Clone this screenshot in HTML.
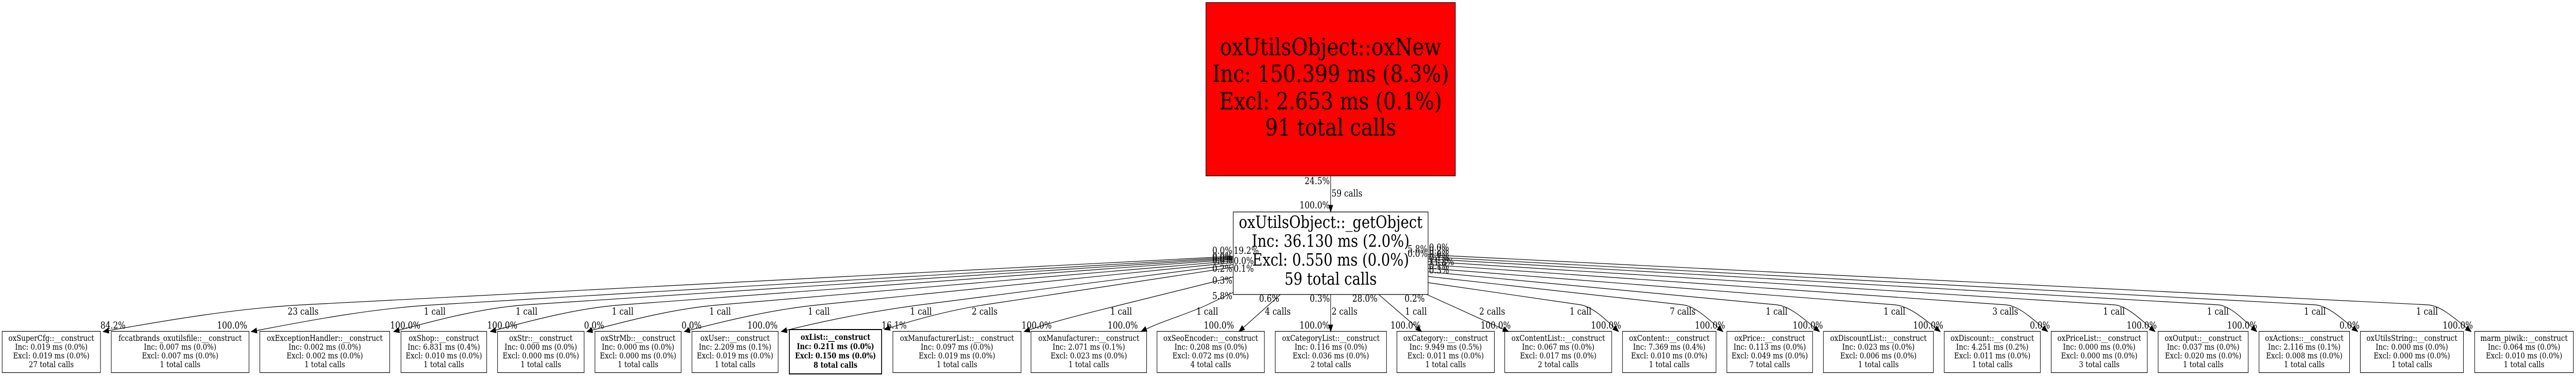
<!DOCTYPE html>
<html><head><meta charset="utf-8">
<style>
html,body{margin:0;padding:0;background:#fff;width:100%;height:100%;overflow:hidden}
svg{display:block;width:100vw;height:100vh}
text{font-family:"DejaVu Serif","Liberation Serif",serif;fill:#000}
</style></head>
<body>
<svg viewBox="0 0 5949 731" preserveAspectRatio="none" xmlns="http://www.w3.org/2000/svg">
<rect x="0" y="0" width="5949" height="731" fill="#fff"/>

<!-- top red node -->
<rect x="2785" y="5" width="576" height="336" fill="#ff0000" stroke="#000" stroke-width="1.3"/>
<g font-size="46.3" text-anchor="middle">
<text x="3073" y="107">oxUtilsObject::oxNew</text>
<text x="3073" y="159">Inc: 150.399 ms (8.3%)</text>
<text x="3073" y="212">Excl: 2.653 ms (0.1%)</text>
<text x="3073" y="263">91 total calls</text>
</g>

<!-- getObject node -->
<rect x="2848" y="411" width="450" height="160" fill="#fff" stroke="#000" stroke-width="1.3"/>
<g font-size="32.6" text-anchor="middle">
<text x="3073" y="442">oxUtilsObject::_getObject</text>
<text x="3073" y="478.5">Inc: 36.130 ms (2.0%)</text>
<text x="3073" y="515">Excl: 0.550 ms (0.0%)</text>
<text x="3073" y="552">59 total calls</text>
</g>

<!-- bottom nodes -->
<g fill="#fff" stroke="#000" stroke-width="1.2">
<rect x="5" y="642.5" width="227" height="80"/>
<rect x="257" y="642.5" width="318" height="80"/>
<rect x="600" y="642.5" width="300" height="80"/>
<rect x="926" y="642.5" width="198" height="80"/>
<rect x="1149" y="642.5" width="200" height="80"/>
<rect x="1374" y="642.5" width="199" height="80"/>
<rect x="1598" y="642.5" width="199" height="80"/>
<rect x="1823" y="639" width="213" height="86" stroke-width="2"/>
<rect x="2062" y="642.5" width="296" height="80"/>
<rect x="2381" y="642.5" width="267" height="80"/>
<rect x="2672" y="642.5" width="248" height="80"/>
<rect x="2945" y="642.5" width="257" height="80"/>
<rect x="3226" y="642.5" width="225" height="80"/>
<rect x="3475" y="642.5" width="247" height="80"/>
<rect x="3747" y="642.5" width="216" height="80"/>
<rect x="3988" y="642.5" width="198" height="80"/>
<rect x="4211" y="642.5" width="254" height="80"/>
<rect x="4490" y="642.5" width="222" height="80"/>
<rect x="4737" y="642.5" width="222" height="80"/>
<rect x="4984" y="642.5" width="208" height="80"/>
<rect x="5217" y="642.5" width="209" height="80"/>
<rect x="5451" y="642.5" width="238" height="80"/>
<rect x="5715" y="642.5" width="228" height="80"/>
</g>

<g font-size="15.9" text-anchor="middle">
<text x="118.5" y="661">oxSuperCfg::__construct</text><text x="118.5" y="678">Inc: 0.019 ms (0.0%)</text><text x="118.5" y="695">Excl: 0.019 ms (0.0%)</text><text x="118.5" y="712">27 total calls</text>
<text x="416" y="661">fccatbrands_oxutilsfile::__construct</text><text x="416" y="678">Inc: 0.007 ms (0.0%)</text><text x="416" y="695">Excl: 0.007 ms (0.0%)</text><text x="416" y="712">1 total calls</text>
<text x="750" y="661">oxExceptionHandler::__construct</text><text x="750" y="678">Inc: 0.002 ms (0.0%)</text><text x="750" y="695">Excl: 0.002 ms (0.0%)</text><text x="750" y="712">1 total calls</text>
<text x="1025" y="661">oxShop::__construct</text><text x="1025" y="678">Inc: 6.831 ms (0.4%)</text><text x="1025" y="695">Excl: 0.010 ms (0.0%)</text><text x="1025" y="712">1 total calls</text>
<text x="1249" y="661">oxStr::__construct</text><text x="1249" y="678">Inc: 0.000 ms (0.0%)</text><text x="1249" y="695">Excl: 0.000 ms (0.0%)</text><text x="1249" y="712">1 total calls</text>
<text x="1473.5" y="661">oxStrMb::__construct</text><text x="1473.5" y="678">Inc: 0.000 ms (0.0%)</text><text x="1473.5" y="695">Excl: 0.000 ms (0.0%)</text><text x="1473.5" y="712">1 total calls</text>
<text x="1697.5" y="661">oxUser::__construct</text><text x="1697.5" y="678">Inc: 2.209 ms (0.1%)</text><text x="1697.5" y="695">Excl: 0.019 ms (0.0%)</text><text x="1697.5" y="712">1 total calls</text>
<g font-weight="bold" font-size="15.4">
<text x="1929.5" y="659">oxList::__construct</text><text x="1929.5" y="677">Inc: 0.211 ms (0.0%)</text><text x="1929.5" y="695">Excl: 0.150 ms (0.0%)</text><text x="1929.5" y="713">8 total calls</text>
</g>
<text x="2210" y="661">oxManufacturerList::__construct</text><text x="2210" y="678">Inc: 0.097 ms (0.0%)</text><text x="2210" y="695">Excl: 0.019 ms (0.0%)</text><text x="2210" y="712">1 total calls</text>
<text x="2514.5" y="661">oxManufacturer::__construct</text><text x="2514.5" y="678">Inc: 2.071 ms (0.1%)</text><text x="2514.5" y="695">Excl: 0.023 ms (0.0%)</text><text x="2514.5" y="712">1 total calls</text>
<text x="2796" y="661">oxSeoEncoder::__construct</text><text x="2796" y="678">Inc: 0.208 ms (0.0%)</text><text x="2796" y="695">Excl: 0.072 ms (0.0%)</text><text x="2796" y="712">4 total calls</text>
<text x="3073.5" y="661">oxCategoryList::__construct</text><text x="3073.5" y="678">Inc: 0.116 ms (0.0%)</text><text x="3073.5" y="695">Excl: 0.036 ms (0.0%)</text><text x="3073.5" y="712">2 total calls</text>
<text x="3338.5" y="661">oxCategory::__construct</text><text x="3338.5" y="678">Inc: 9.949 ms (0.5%)</text><text x="3338.5" y="695">Excl: 0.011 ms (0.0%)</text><text x="3338.5" y="712">1 total calls</text>
<text x="3598.5" y="661">oxContentList::__construct</text><text x="3598.5" y="678">Inc: 0.067 ms (0.0%)</text><text x="3598.5" y="695">Excl: 0.017 ms (0.0%)</text><text x="3598.5" y="712">2 total calls</text>
<text x="3855" y="661">oxContent::__construct</text><text x="3855" y="678">Inc: 7.369 ms (0.4%)</text><text x="3855" y="695">Excl: 0.010 ms (0.0%)</text><text x="3855" y="712">1 total calls</text>
<text x="4087" y="661">oxPrice::__construct</text><text x="4087" y="678">Inc: 0.113 ms (0.0%)</text><text x="4087" y="695">Excl: 0.049 ms (0.0%)</text><text x="4087" y="712">7 total calls</text>
<text x="4338" y="661">oxDiscountList::__construct</text><text x="4338" y="678">Inc: 0.023 ms (0.0%)</text><text x="4338" y="695">Excl: 0.006 ms (0.0%)</text><text x="4338" y="712">1 total calls</text>
<text x="4601" y="661">oxDiscount::__construct</text><text x="4601" y="678">Inc: 4.251 ms (0.2%)</text><text x="4601" y="695">Excl: 0.011 ms (0.0%)</text><text x="4601" y="712">1 total calls</text>
<text x="4848" y="661">oxPriceList::__construct</text><text x="4848" y="678">Inc: 0.000 ms (0.0%)</text><text x="4848" y="695">Excl: 0.000 ms (0.0%)</text><text x="4848" y="712">3 total calls</text>
<text x="5088" y="661">oxOutput::__construct</text><text x="5088" y="678">Inc: 0.037 ms (0.0%)</text><text x="5088" y="695">Excl: 0.020 ms (0.0%)</text><text x="5088" y="712">1 total calls</text>
<text x="5321.5" y="661">oxActions::__construct</text><text x="5321.5" y="678">Inc: 2.116 ms (0.1%)</text><text x="5321.5" y="695">Excl: 0.008 ms (0.0%)</text><text x="5321.5" y="712">1 total calls</text>
<text x="5570" y="661">oxUtilsString::__construct</text><text x="5570" y="678">Inc: 0.000 ms (0.0%)</text><text x="5570" y="695">Excl: 0.000 ms (0.0%)</text><text x="5570" y="712">1 total calls</text>
<text x="5829" y="661">marm_piwik::__construct</text><text x="5829" y="678">Inc: 0.064 ms (0.0%)</text><text x="5829" y="695">Excl: 0.010 ms (0.0%)</text><text x="5829" y="712">1 total calls</text>
</g>

<!-- edges -->
<g fill="none" stroke="#000" stroke-width="1.2">
<path d="M3073,341 L3073,399"/>
<path d="M2848,497 L700,591 C546,598 392,620 238,643"/>
<path d="M2848,499 L1004,591 C863,598 721,620 580,643"/>
<path d="M2848,501 L1216,591 C1114,597 1011,620 909,643"/>
<path d="M2848,503 L1438,591 C1336,597 1234,620 1132,643"/>
<path d="M2848,506 L1663,591 C1560,598 1458,620 1355,643"/>
<path d="M2848,509 L1891,591 C1787,600 1684,620 1580,643"/>
<path d="M2848,513 L2127,591 C2019,603 1912,620 1804,643"/>
<path d="M2848,518 L2274,591 C2197,601 2119,618 2042,639"/>
<path d="M2848,537 L2589,591 C2514,607 2440,621 2365,643"/>
<path d="M2848,567 L2788,591 C2737,611 2686,621 2635,643"/>
<path d="M2957,571 L2861,643"/>
<path d="M3073,571 L3073,632"/>
<path d="M3184,571 L3283,643"/>
<path d="M3295,571 L3484,643"/>
<path d="M3298,548 L3650,591 C3679,595 3709,620 3738,643"/>
<path d="M3298,536 L3886,591 C3917,594 3948,621 3979,643"/>
<path d="M3298,527 L4103,591 C4136,594 4169,621 4202,643"/>
<path d="M3298,520 L4375,591 C4410,593 4446,620 4481,643"/>
<path d="M3298,513 L4631,591 C4664,593 4696,620 4729,643"/>
<path d="M3298,507 L4882,591 C4914,593 4945,621 4977,643"/>
<path d="M3298,502 L5122,591 C5152,593 5182,621 5212,643"/>
<path d="M3298,498 L5346,591 C5379,593 5412,621 5445,643"/>
<path d="M3298,494 L5605,591 C5639,592 5673,621 5707,643"/>
</g>

<!-- arrowheads -->
<g fill="#000" stroke="#000" stroke-width="1">
<polygon points="3073,411 3068,398 3078,398"/>
<polygon points="238,643 250.2,636.2 251.6,646.1"/>
<polygon points="580,643 592.0,636.1 593.6,645.9"/>
<polygon points="909,643 920.6,635.3 922.8,645.1"/>
<polygon points="1132,643 1143.6,635.3 1145.8,645.1"/>
<polygon points="1355,643 1366.6,635.3 1368.8,645.1"/>
<polygon points="1580,643 1591.6,635.3 1593.8,645.1"/>
<polygon points="1804,643 1815.7,635.4 1817.7,645.2"/>
<polygon points="2042,639 2053.3,630.8 2055.9,640.4"/>
<polygon points="2365,643 2376.1,634.5 2378.9,644.1"/>
<polygon points="2635,643 2644.9,633.2 2648.9,642.4"/>
<polygon points="2861,643 2868.4,631.2 2874.4,639.2"/>
<polygon points="3073,643 3068,630 3078,630"/>
<polygon points="3283,643 3269.6,639.4 3275.4,631.3"/>
<polygon points="3484,643 3470.1,643.0 3473.6,633.7"/>
<polygon points="3738,643 3724.6,639.0 3730.7,631.1"/>
<polygon points="3979,643 3965.5,639.4 3971.4,631.3"/>
<polygon points="4202,643 4188.4,639.8 4194.1,631.6"/>
<polygon points="4481,643 4467.4,640.2 4472.8,631.8"/>
<polygon points="4729,643 4715.5,639.7 4721.1,631.5"/>
<polygon points="4977,643 4963.5,639.6 4969.3,631.4"/>
<polygon points="5212,643 5198.6,639.2 5204.6,631.2"/>
<polygon points="5445,643 5431.4,639.8 5437.1,631.6"/>
<polygon points="5707,643 5693.4,640.0 5698.9,631.7"/>
</g>

<!-- edge labels -->
<g font-size="18.3">
<text x="3071" y="357" text-anchor="end">24.5%</text>
<text x="3075" y="381">59 calls</text>
<text x="3071" y="404" text-anchor="end">100.0%</text>

<g text-anchor="end">
<text x="2846" y="492">0.0%</text>
<text x="2846" y="503">0.0%</text>
<text x="2846" y="507">0.0%</text>
<text x="2846" y="511">0.0%</text>
<text x="2846" y="527">0.2%</text>
<text x="2846" y="550">0.3%</text>
<text x="2846" y="580">5.8%</text>
<text x="3297" y="489">5.8%</text>
<text x="3297" y="498">0.0%</text>
</g>
<text x="2849" y="492">19.2%</text>
<text x="2849" y="512">0.0%</text>
<text x="2849" y="527">0.1%</text>
<text x="3300" y="486">0.0%</text>
<text x="3300" y="492">0.2%</text>
<text x="3300" y="499">0.0%</text>
<text x="3300" y="506">0.1%</text>
<text x="3300" y="514">11.8%</text>
<text x="3300" y="522">0.1%</text>
<text x="3300" y="530">0.3%</text>

<g text-anchor="middle">
<text x="2931" y="585">0.6%</text>
<text x="3048" y="585">0.3%</text>
<text x="3152" y="585">28.0%</text>
<text x="3267" y="585">0.2%</text>

<text x="700" y="610">23 calls</text>
<text x="1004" y="610">1 call</text>
<text x="1216" y="610">1 call</text>
<text x="1438" y="610">1 call</text>
<text x="1663" y="610">1 call</text>
<text x="1891" y="610">1 call</text>
<text x="2127" y="610">1 call</text>
<text x="2274" y="610">2 calls</text>
<text x="2589" y="610">1 call</text>
<text x="2788" y="610">1 call</text>
<text x="2951" y="610">4 calls</text>
<text x="3105" y="610">2 calls</text>
<text x="3270" y="610">1 call</text>
<text x="3446" y="610">2 calls</text>
<text x="3650" y="610">1 call</text>
<text x="3886" y="610">7 calls</text>
<text x="4103" y="610">1 call</text>
<text x="4375" y="610">1 call</text>
<text x="4631" y="610">3 calls</text>
<text x="4882" y="610">1 call</text>
<text x="5122" y="610">1 call</text>
<text x="5346" y="610">1 call</text>
<text x="5605" y="610">1 call</text>

<text x="261" y="637">84.2%</text>
<text x="536" y="637">100.0%</text>
<text x="936" y="637">100.0%</text>
<text x="1160" y="637">100.0%</text>
<text x="1372" y="637">0.0%</text>
<text x="1597" y="637">0.0%</text>
<text x="1761" y="637">100.0%</text>
<text x="2065" y="637">16.1%</text>
<text x="2394" y="637">100.0%</text>
<text x="2593" y="637">100.0%</text>
<text x="2815" y="637">100.0%</text>
<text x="3036" y="637">100.0%</text>
<text x="3246" y="637">100.0%</text>
<text x="3454" y="637">100.0%</text>
<text x="3709" y="637">100.0%</text>
<text x="3949" y="637">100.0%</text>
<text x="4175" y="637">100.0%</text>
<text x="4453" y="637">100.0%</text>
<text x="4711" y="637">0.0%</text>
<text x="4946" y="637">100.0%</text>
<text x="5178" y="637">100.0%</text>
<text x="5426" y="637">0.0%</text>
<text x="5676" y="637">100.0%</text>
</g>
</g>
</svg>
</body></html>
